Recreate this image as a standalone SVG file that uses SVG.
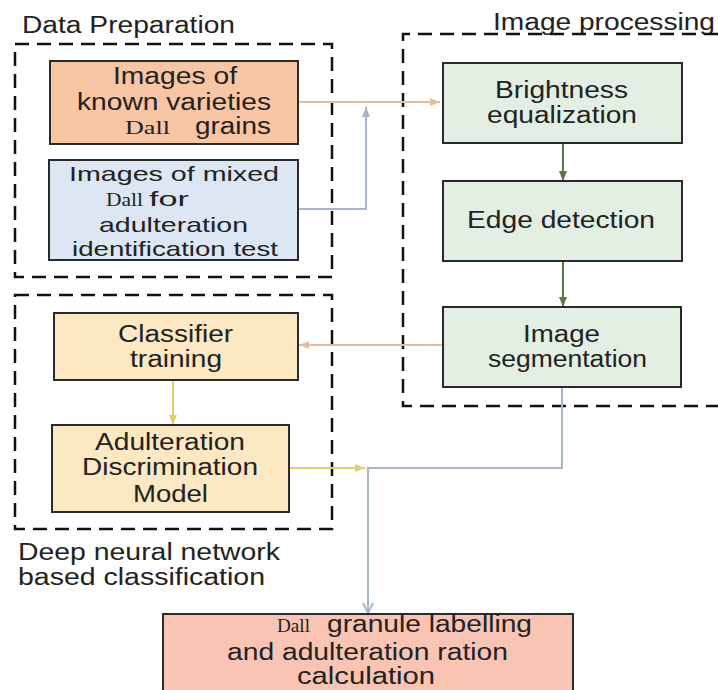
<svg xmlns="http://www.w3.org/2000/svg" width="718" height="690" viewBox="0 0 718 690">
<style>
.t{font-family:"Liberation Sans",Arial,sans-serif;font-size:23px;fill:#222}
.s{font-size:21px}
.d{font-family:"Liberation Serif","Times New Roman",serif;font-size:18px;fill:#222}
.box{stroke:#2a2a2a;stroke-width:2}
.grp{fill:none;stroke:#111;stroke-width:2.5;stroke-dasharray:14 8}
.c{fill:none;stroke-width:2}
</style>
<defs>
<marker id="aOr" viewBox="0 0 10 10" refX="10" refY="5" markerWidth="10" markerHeight="10" markerUnits="userSpaceOnUse" orient="auto"><path d="M0,1 L10,5 L0,9 z" fill="#e6bc9c"/></marker>
<marker id="aBl" viewBox="0 0 10 10" refX="10" refY="5" markerWidth="10" markerHeight="10" markerUnits="userSpaceOnUse" orient="auto"><path d="M0,1 L10,5 L0,9 z" fill="#a6b5cd"/></marker>
<marker id="aGr" viewBox="0 0 10 10" refX="10" refY="5" markerWidth="10" markerHeight="10" markerUnits="userSpaceOnUse" orient="auto"><path d="M0,1 L10,5 L0,9 z" fill="#587848"/></marker>
<marker id="aYe" viewBox="0 0 10 10" refX="10" refY="5" markerWidth="10" markerHeight="10" markerUnits="userSpaceOnUse" orient="auto"><path d="M0,1 L10,5 L0,9 z" fill="#e2cf72"/></marker>
<marker id="aBlOpen" viewBox="0 0 12 12" refX="11" refY="6" markerWidth="12" markerHeight="12" markerUnits="userSpaceOnUse" orient="auto"><path d="M1,1 L11,6 L1,11" fill="none" stroke="#a6b5cd" stroke-width="2"/></marker>
</defs>
<rect width="718" height="690" fill="#ffffff"/>

<g id="group-data-preparation">
<text class="t" x="22" y="33" textLength="213" lengthAdjust="spacingAndGlyphs">Data Preparation</text>
<rect class="grp" x="15" y="44" width="317" height="233"/>
</g>
<g id="group-image-processing">
<text class="t" x="493" y="30" textLength="222" lengthAdjust="spacingAndGlyphs">Image processing</text>
<path class="grp" d="M740,34 H403 V406 H740"/>
</g>
<g id="group-dnn">
<rect class="grp" x="15" y="295" width="317" height="234"/>
<text class="t" x="18" y="560" textLength="262" lengthAdjust="spacingAndGlyphs">Deep neural network</text>
<text class="t" x="18" y="585" textLength="247" lengthAdjust="spacingAndGlyphs">based classification</text>
</g>

<g id="connectors">
<path class="c" d="M298,102 H440" stroke="#e6bc9c" marker-end="url(#aOr)"/>
<path class="c" d="M298,209 H366 V107" stroke="#a6b5cd" marker-end="url(#aBl)"/>
<path class="c" d="M563,143 V181" stroke="#587848" marker-end="url(#aGr)"/>
<path class="c" d="M563,261 V307" stroke="#587848" marker-end="url(#aGr)"/>
<path class="c" d="M443,345 H299" stroke="#e6bc9c" marker-end="url(#aOr)"/>
<path class="c" d="M173,380 V425" stroke="#e2cf72" marker-end="url(#aYe)"/>
<path class="c" d="M289,468 H365" stroke="#e2cf72" marker-end="url(#aYe)"/>
<path class="c" d="M562,387 V468 H368 V613" stroke="#a6b5cd" marker-end="url(#aBlOpen)"/>
</g>

<g id="node-known-varieties">
<rect class="box" x="50" y="61" width="248" height="83" fill="#f8c5a5"/>
<text class="t" x="113" y="84" textLength="124" lengthAdjust="spacingAndGlyphs">Images of</text>
<text class="t" x="77" y="110" textLength="194" lengthAdjust="spacingAndGlyphs">known varieties</text>
<text class="d" x="125" y="134" textLength="45" lengthAdjust="spacingAndGlyphs">Dall</text>
<text class="t" x="195" y="134" textLength="76" lengthAdjust="spacingAndGlyphs">grains</text>
</g>
<g id="node-mixed">
<rect class="box" x="49" y="160" width="249" height="100" fill="#dce7f3"/>
<text class="t s" x="69" y="181" textLength="210" lengthAdjust="spacingAndGlyphs">Images of mixed</text>
<text class="d" x="106" y="206" textLength="37" lengthAdjust="spacingAndGlyphs">Dall</text>
<text class="t s" x="149" y="206" textLength="40" lengthAdjust="spacingAndGlyphs">for</text>
<text class="t s" x="99" y="232" textLength="149" lengthAdjust="spacingAndGlyphs">adulteration</text>
<text class="t s" x="72" y="256" textLength="206" lengthAdjust="spacingAndGlyphs">identification test</text>
</g>
<g id="node-brightness">
<rect class="box" x="443" y="63" width="239" height="80" fill="#e3efe3"/>
<text class="t" x="495" y="98" textLength="133" lengthAdjust="spacingAndGlyphs">Brightness</text>
<text class="t" x="487" y="123" textLength="150" lengthAdjust="spacingAndGlyphs">equalization</text>
</g>
<g id="node-edge">
<rect class="box" x="443" y="181" width="239" height="80" fill="#e3efe3"/>
<text class="t" x="467" y="228" textLength="188" lengthAdjust="spacingAndGlyphs">Edge detection</text>
</g>
<g id="node-segmentation">
<rect class="box" x="443" y="307" width="238" height="80" fill="#e3efe3"/>
<text class="t" x="523" y="342" textLength="77" lengthAdjust="spacingAndGlyphs">Image</text>
<text class="t" x="488" y="367" textLength="159" lengthAdjust="spacingAndGlyphs">segmentation</text>
</g>
<g id="node-classifier">
<rect class="box" x="54" y="313" width="244" height="67" fill="#fce8c2"/>
<text class="t" x="118" y="342" textLength="115" lengthAdjust="spacingAndGlyphs">Classifier</text>
<text class="t" x="130" y="367" textLength="92" lengthAdjust="spacingAndGlyphs">training</text>
</g>
<g id="node-model">
<rect class="box" x="52" y="425" width="237" height="87" fill="#fce8c2"/>
<text class="t" x="95" y="450" textLength="150" lengthAdjust="spacingAndGlyphs">Adulteration</text>
<text class="t" x="82" y="475" textLength="176" lengthAdjust="spacingAndGlyphs">Discrimination</text>
<text class="t" x="133" y="502" textLength="75" lengthAdjust="spacingAndGlyphs">Model</text>
</g>
<g id="node-labelling">
<rect class="box" x="163" y="614" width="410" height="90" fill="#f9c4b4"/>
<text class="d" x="277" y="632" textLength="33" lengthAdjust="spacingAndGlyphs">Dall</text>
<text class="t" x="327" y="632" textLength="205" lengthAdjust="spacingAndGlyphs">granule labelling</text>
<text class="t" x="227" y="660" textLength="281" lengthAdjust="spacingAndGlyphs">and adulteration ration</text>
<text class="t" x="297" y="684" textLength="138" lengthAdjust="spacingAndGlyphs">calculation</text>
</g>
</svg>
